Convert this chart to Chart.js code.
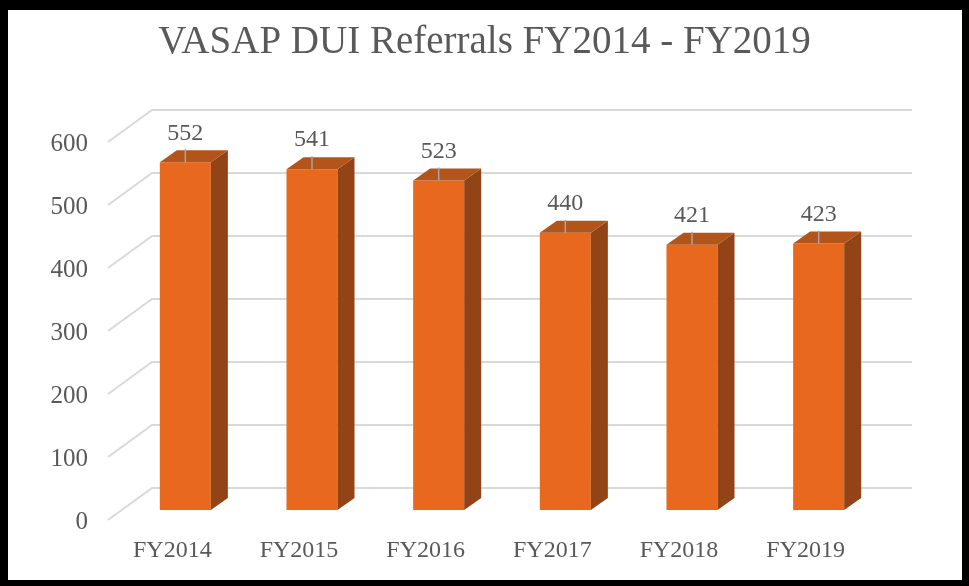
<!DOCTYPE html>
<html>
<head>
<meta charset="utf-8">
<script src="https://cdn.jsdelivr.net/npm/chart.js@4"></script>
<style>
  html, body { margin: 0; padding: 0; background: #fff; }
</style>
</head>
<body>
<canvas id="myChart" width="969" height="586"></canvas>
<script>
const years = ["FY2014", "FY2015", "FY2016", "FY2017", "FY2018", "FY2019"];
const referrals = [552, 541, 523, 440, 421, 423];
const yTicks = [0, 100, 200, 300, 400, 500, 600];

const textGray = "#595959";
const serif = "'Liberation Serif', 'DejaVu Serif', serif";

// fake 3D: back wall grid, bar side/top faces, data labels, outer frame
const depthX = 17, depthY = 12;
const fake3d = {
  id: "fake3d",
  beforeDatasetsDraw(chart) {
    const { ctx, chartArea, scales } = chart;
    ctx.save();
    ctx.strokeStyle = "#D9D9D9";
    ctx.lineWidth = 2;
    yTicks.forEach(v => {
      const y = scales.y.getPixelForValue(v);
      ctx.beginPath();
      ctx.moveTo(chartArea.left - 14, y + 10);
      ctx.lineTo(chartArea.left + 30, y - 22);
      ctx.lineTo(chartArea.right + 30, y - 22);
      ctx.stroke();
    });
    ctx.restore();
  },
  afterDatasetsDraw(chart) {
    const { ctx } = chart;
    const meta = chart.getDatasetMeta(0);
    ctx.save();
    meta.data.forEach((bar, i) => {
      const x0 = bar.x - bar.width / 2, x1 = bar.x + bar.width / 2;
      const top = bar.y, bottom = bar.base;
      // side
      ctx.fillStyle = "#934416";
      ctx.beginPath();
      ctx.moveTo(x1, top);
      ctx.lineTo(x1 + depthX, top - depthY);
      ctx.lineTo(x1 + depthX, bottom - depthY);
      ctx.lineTo(x1, bottom);
      ctx.closePath();
      ctx.fill();
      // top
      ctx.fillStyle = "#B3551A";
      ctx.beginPath();
      ctx.moveTo(x0, top);
      ctx.lineTo(x0 + depthX, top - depthY);
      ctx.lineTo(x1 + depthX, top - depthY);
      ctx.lineTo(x1, top);
      ctx.closePath();
      ctx.fill();
      // leader + label
      ctx.strokeStyle = "#A6A6A6";
      ctx.lineWidth = 1.5;
      ctx.beginPath();
      ctx.moveTo(bar.x, top - 13);
      ctx.lineTo(bar.x, top);
      ctx.stroke();
      ctx.fillStyle = textGray;
      ctx.font = "24px " + serif;
      ctx.textAlign = "center";
      ctx.textBaseline = "middle";
      ctx.fillText(String(referrals[i]), bar.x, top - 29);
    });
    ctx.restore();
  },
  afterDraw(chart) {
    const { ctx, width, height } = chart;
    ctx.save();
    ctx.fillStyle = "#000";
    ctx.fillRect(0, 0, width, 10);
    ctx.fillRect(0, 0, 8, height);
    ctx.fillRect(width - 7, 0, 7, height);
    ctx.fillRect(0, height - 6, width, 6);
    ctx.restore();
  }
};

new Chart("myChart", {
  type: "bar",
  data: {
    labels: years,
    datasets: [{
      data: referrals,
      backgroundColor: "#E8691D",
      borderWidth: 0,
      categoryPercentage: 1,
      barPercentage: 0.403
    }]
  },
  options: {
    responsive: false,
    animation: false,
    layout: { padding: 0 },
    plugins: {
      legend: { display: false },
      tooltip: { enabled: false },
      title: {
        display: true,
        text: "VASAP DUI Referrals FY2014 - FY2019",
        color: textGray,
        font: { family: serif, size: 39, weight: "normal" },
        padding: { top: 19, bottom: 66.2 }
      }
    },
    scales: {
      x: {
        grid: { display: false, drawTicks: false },
        border: { display: false },
        ticks: {
          color: textGray,
          font: { family: serif, size: 24 },
          padding: 26,
          labelOffset: -13
        },
        afterFit(scale) { scale.height = 76; }
      },
      y: {
        min: 0,
        max: 600,
        grid: { display: false, drawTicks: false },
        border: { display: false },
        ticks: {
          stepSize: 100,
          color: textGray,
          font: { family: serif, size: 25 },
          padding: 34,
          labelOffset: 12
        },
        afterFit(scale) { scale.width = 122; }
      },
      // empty right-hand spacer so the title stays centred on the page
      spacer: {
        position: "right",
        grid: { display: false, drawTicks: false },
        border: { display: false },
        ticks: { display: false },
        afterFit(scale) { scale.width = 87; }
      }
    }
  },
  plugins: [fake3d]
});
</script>
</body>
</html>
